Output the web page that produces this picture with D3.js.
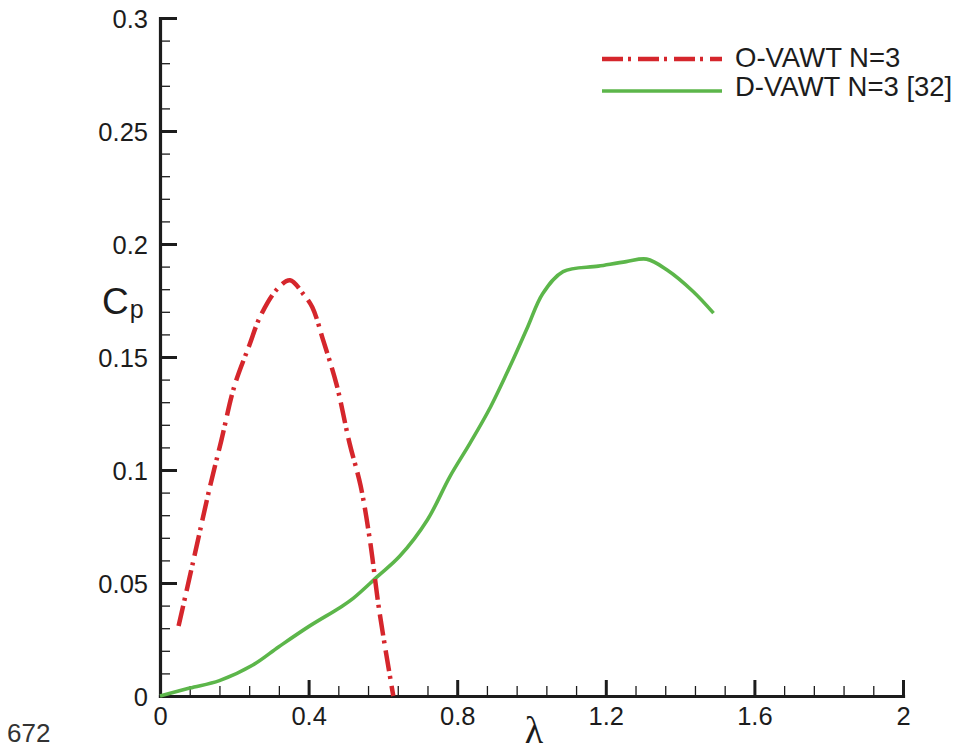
<!DOCTYPE html>
<html>
<head>
<meta charset="utf-8">
<script src="https://cdn.jsdelivr.net/npm/d3@7"></script>
<style>
  html, body { margin: 0; padding: 0; background: #fff; }
  svg { display: block; font-family: "Liberation Sans", Arial, Helvetica, sans-serif; }
</style>
</head>
<body>
<svg id="chart" width="957" height="751"></svg>
<script>
// ---- data ----
const oVawtLambda = [0.05, 0.09, 0.135, 0.165, 0.20, 0.24, 0.27, 0.315, 0.35, 0.385, 0.41, 0.44, 0.475, 0.51, 0.54, 0.565, 0.59, 0.628];
const oVawtCp     = [0.031, 0.060, 0.093, 0.113, 0.137, 0.155, 0.168, 0.180, 0.184, 0.178, 0.172, 0.157, 0.138, 0.112, 0.093, 0.069, 0.038, 0.0];

const dVawtLambda = [0, 0.08, 0.16, 0.25, 0.32, 0.40, 0.485, 0.52, 0.585, 0.645, 0.72, 0.78, 0.835, 0.89, 0.95, 0.99, 1.03, 1.085, 1.18, 1.255, 1.31, 1.365, 1.435, 1.49];
const dVawtCp     = [0, 0.0035, 0.0068, 0.0137, 0.0218, 0.0307, 0.0392, 0.0432, 0.0528, 0.0618, 0.078, 0.097, 0.112, 0.128, 0.1487, 0.1634, 0.178, 0.1878, 0.1902, 0.1922, 0.1933, 0.1885, 0.179, 0.1694];

const xTicks = [0, 0.4, 0.8, 1.2, 1.6, 2];
const xTickLabels = ["0", "0.4", "0.8", "1.2", "1.6", "2"];
const yTicks = [0, 0.05, 0.1, 0.15, 0.2, 0.25, 0.3];
const yTickLabels = ["0", "0.05", "0.1", "0.15", "0.2", "0.25", "0.3"];

const seriesNames = ["O-VAWT N=3", "D-VAWT N=3 [32]"];
const seriesColors = ["#d5262c", "#5cb64a"];

// ---- layout ----
const svg = d3.select("#chart");
const x = d3.scaleLinear().domain([0, 2]).range([160, 903]);
const y = d3.scaleLinear().domain([0, 0.3]).range([696, 18]);
const ink = "#1c1c1c";

// minor tick values
const xMinor = [];
for (let i = 0; i < xTicks.length - 1; i++) for (let k = 1; k < 5; k++) xMinor.push(xTicks[i] + (xTicks[i + 1] - xTicks[i]) * k / 5);
const yMinor = [];
for (let i = 0; i < yTicks.length - 1; i++) for (let k = 1; k < 5; k++) yMinor.push(yTicks[i] + (yTicks[i + 1] - yTicks[i]) * k / 5);

// minor ticks
const xMinorG = svg.append("g").attr("transform", "translate(0,696)")
  .call(d3.axisBottom(x).tickValues(xMinor).tickSize(-10).tickSizeOuter(0).tickFormat(""));
xMinorG.select(".domain").remove();
xMinorG.selectAll("line").attr("stroke", ink).attr("stroke-width", 1.3);

const yMinorG = svg.append("g").attr("transform", "translate(160,0)")
  .call(d3.axisLeft(y).tickValues(yMinor).tickSize(-10).tickSizeOuter(0).tickFormat(""));
yMinorG.select(".domain").remove();
yMinorG.selectAll("line").attr("stroke", ink).attr("stroke-width", 1.3);

// major axes
const xAxisG = svg.append("g").attr("transform", "translate(0,696)")
  .call(d3.axisBottom(x).tickValues(xTicks).tickSize(-16).tickSizeOuter(0).tickPadding(11)
    .tickFormat((d, i) => xTickLabels[i]));
const yAxisG = svg.append("g").attr("transform", "translate(160,0)")
  .call(d3.axisLeft(y).tickValues(yTicks).tickSize(-17).tickSizeOuter(0).tickPadding(12)
    .tickFormat((d, i) => yTickLabels[i]));

[xAxisG, yAxisG].forEach(g => {
  g.select(".domain").attr("stroke", ink).attr("stroke-width", 3.2).attr("stroke-linecap", "square");
  g.selectAll(".tick line").attr("stroke", ink).attr("stroke-width", 3);
  g.selectAll(".tick text").attr("fill", ink).style("font-size", "25.5px")
    .style("font-family", "'Liberation Sans', Arial, sans-serif");
});
yAxisG.selectAll(".tick text").attr("dy", "0.36em");

// ---- curves ----
const line = d3.line().x(d => x(d[0])).y(d => y(d[1])).curve(d3.curveCatmullRom.alpha(0.5));

const dData = dVawtLambda.map((l, i) => [l, dVawtCp[i]]);
const oData = oVawtLambda.map((l, i) => [l, oVawtCp[i]]);

svg.append("path").datum(dData).attr("d", line)
  .attr("fill", "none").attr("stroke", seriesColors[1]).attr("stroke-width", 3.6)
  .attr("stroke-linejoin", "round");

svg.append("path").datum(oData).attr("d", line)
  .attr("fill", "none").attr("stroke", seriesColors[0]).attr("stroke-width", 4.5)
  .attr("stroke-dasharray", "21,5,3,7");

// ---- legend ----
const legend = svg.append("g");
const legendRows = [
  { y: 59, ty: 67, dash: "21,5,3,7", w: 4.5 },
  { y: 91, ty: 96, dash: null, w: 3.6 }
];
legendRows.forEach((r, i) => {
  legend.append("line").attr("x1", 602).attr("x2", 722).attr("y1", r.y).attr("y2", r.y)
    .attr("stroke", seriesColors[i]).attr("stroke-width", r.w)
    .attr("stroke-dasharray", r.dash);
  legend.append("text").attr("x", 735).attr("y", r.ty).text(seriesNames[i])
    .attr("fill", ink).style("font-size", "27.5px");
});

// ---- axis titles ----
const cp = svg.append("text").attr("x", 102).attr("y", 314).attr("fill", ink);
cp.append("tspan").text("C").style("font-size", "37px");
cp.append("tspan").text("p").attr("dy", 4).attr("dx", 1).style("font-size", "25px");

svg.append("text").attr("x", 534).attr("y", 743).attr("text-anchor", "middle")
  .attr("fill", ink).style("font-family", "'Liberation Serif', 'Times New Roman', serif")
  .style("font-size", "38px").text("λ");

svg.append("text").attr("x", 7).attr("y", 742).attr("fill", "#333")
  .style("font-size", "26px").text("672");
</script>
</body>
</html>
